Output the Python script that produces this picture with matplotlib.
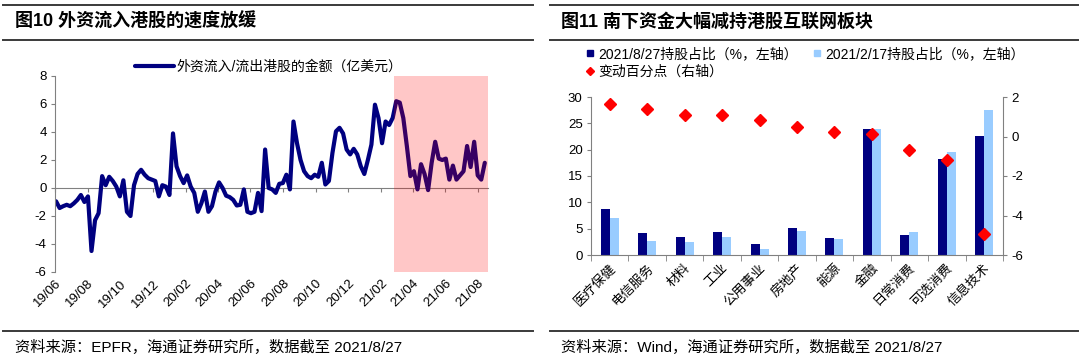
import numpy as np
import pandas as pd
import matplotlib
matplotlib.use("Agg")
import matplotlib.pyplot as plt
import matplotlib.dates as mdates
from matplotlib.lines import Line2D

plt.rcParams['font.family'] = ['Liberation Sans', 'Noto Sans CJK SC']
plt.rcParams['axes.unicode_minus'] = False

# ---------------------------------
# Left chart: weekly foreign flow into HK stocks (亿美元)
# ---------------------------------
flow_start = "2019-06-03"
flow_end = "2021-08-14"
flow_values = [
    -0.95, -1.43, -1.3, -1.2, -1.3, -1.1, -0.85, -0.5, -1.0, -0.6,
    -4.5, -2.3, -1.8, 0.85, 0.2, 0.8, 0.5, 0.1, -0.6, 0.55,
    -1.7, -2.0, 0.2, 1.0, 1.3, 0.95, 0.7, 0.6, 0.5, -0.6,
    0.2, 0.1, -0.5, 3.9, 1.55, 0.85, 0.35, 0.9, 0.1, -0.35,
    -1.7, -1.1, -0.25, -1.7, -1.3, -0.25, 0.4, 0.0, -0.55, -0.65,
    -0.85, -1.25, -1.2, -0.1, -1.7, -1.8, -1.7, -0.35, -1.65,
    2.75, 0.0, -0.1, -0.35, 0.3, 0.35, 0.95, -0.1, 4.75, 3.2,
    2.0, 1.2, 0.85, 0.7, 0.95, 0.8, 1.8, 0.25, 0.5, 2.5,
    4.05, 4.3, 3.9, 2.75, 2.4, 2.8, 2.4, 1.55, 1.0, 2.0,
    3.1, 5.95, 5.0, 3.2, 4.75, 4.5, 5.0, 6.2, 6.1, 5.0,
    3.0, 0.85, 1.2, -0.1, 1.7, 1.0, -0.15, 1.8, 3.3, 2.1,
    2.0, 2.1, 0.6, 1.6, 0.6, 0.9, 1.2, 3.0, 1.5, 3.3,
    0.9, 0.6, 1.8,
]
flow_label = "外资流入/流出港股的金额（亿美元）"
shade_start = "2021-02-25"
x_left, x_right = "2019-06-01", "2021-08-20"

# ---------------------------------
# Right chart: southbound holdings by sector
# ---------------------------------
sectors = ["医疗保健", "电信服务", "材料", "工业", "公用事业", "房地产",
           "能源", "金融", "日常消费", "可选消费", "信息技术"]
share_0827 = [8.7, 4.1, 3.5, 4.4, 2.0, 5.05, 3.2, 24.0, 3.8, 18.3, 22.55]
share_0217 = [7.1, 2.7, 2.4, 3.4, 1.1, 4.6, 3.0, 23.9, 4.4, 19.6, 27.6]
change_pp = [1.63, 1.38, 1.09, 1.09, 0.84, 0.49, 0.24, 0.15, -0.66, -1.2, -4.93]

navy = "#000080"
light = "#99ccff"
gray = "#808080"
W, H = 1080, 362

fig = plt.figure(figsize=(W / 100, H / 100), dpi=100)


def fx(px):
    return px / W


def fy(py):
    return 1 - py / H


# header / footer rules and texts
for x0, x1 in [(3, 533), (550, 1078)]:
    for py in (5, 40, 331):
        fig.add_artist(Line2D([fx(x0), fx(x1)], [fy(py), fy(py)],
                              transform=fig.transFigure, color="#3a3a3a", lw=1.4))
fig.text(fx(15), fy(22), "图10 外资流入港股的速度放缓", fontsize=13,
         fontweight="bold", va="center")
fig.text(fx(561), fy(22), "图11 南下资金大幅减持港股互联网板块", fontsize=13,
         fontweight="bold", va="center")
fig.text(fx(15), fy(347), "资料来源：EPFR，海通证券研究所，数据截至 2021/8/27",
         fontsize=11, va="center")
fig.text(fx(561), fy(347), "资料来源：Wind，海通证券研究所，数据截至 2021/8/27",
         fontsize=11, va="center")

# ---------------------------------
# Left chart
# ---------------------------------
ax = fig.add_axes([fx(55), fy(272), fx(488 - 55), (272 - 76) / H])
dates = pd.date_range(flow_start, flow_end, periods=len(flow_values))
ax.plot(dates, flow_values, color=navy, lw=3.0, solid_joinstyle="round",
        solid_capstyle="round", zorder=2, label=flow_label)
ax.axvspan(pd.Timestamp(shade_start), pd.Timestamp(x_right), color="#ff0000",
           alpha=0.22, lw=0, zorder=3)
ax.set_xlim(pd.Timestamp(x_left), pd.Timestamp(x_right))
ax.set_ylim(-6, 8)
ax.set_yticks(range(-6, 9, 2))
for s in ("top", "right", "bottom"):
    ax.spines[s].set_visible(False)
ax.spines["left"].set_color(gray)
ax.tick_params(axis="y", length=3, color=gray, labelsize=9.5, pad=3)
ax.xaxis.set_major_locator(mdates.MonthLocator(bymonth=[2, 4, 6, 8, 10, 12]))
ax.xaxis.set_major_formatter(mdates.DateFormatter("%y/%m"))
ax.tick_params(axis="x", length=0, labelsize=9.5, pad=4)
for lab in ax.get_xticklabels():
    lab.set_rotation(45)
    lab.set_ha("right")
    lab.set_rotation_mode("anchor")

# zero line with tick marks (labels stay at the bottom)
sec = ax.secondary_xaxis(6 / 14)
sec.xaxis.set_major_locator(mdates.MonthLocator(bymonth=[2, 4, 6, 8, 10, 12]))
sec.tick_params(length=3, color=gray, labelbottom=False, labeltop=False)
for s in sec.spines.values():
    s.set_color(gray)
    s.set_linewidth(0.8)

ax.legend(loc="upper left", bbox_to_anchor=(fx(135), fy(60)),
          bbox_transform=fig.transFigure, frameon=False, fontsize=10,
          handlelength=2.8, handletextpad=0.2, borderpad=0, borderaxespad=0)

# ---------------------------------
# Right chart
# ---------------------------------
axr = fig.add_axes([fx(591), fy(255), fx(1003 - 591), (255 - 97) / H])
x = np.arange(len(sectors))
w = 0.24
axr.bar(x - w / 2, share_0827, w, color=navy, zorder=2)
axr.bar(x + w / 2, share_0217, w, color=light, zorder=2)
axr.set_xlim(-0.5, len(sectors) - 0.5)
axr.set_ylim(0, 30)
axr.set_yticks(range(0, 31, 5))
axr.set_xticks(x)
axr.set_xticklabels(sectors, rotation=45, ha="right", rotation_mode="anchor",
                    fontsize=9.5)
axr.set_xticks(np.arange(-0.5, len(sectors), 1), minor=True)
axr.tick_params(axis="x", which="major", length=0, pad=5)
axr.tick_params(axis="x", which="minor", length=4, color=gray)
axr.tick_params(axis="y", length=3, color=gray, labelsize=9.5, pad=3)
for s in ("top", "right"):
    axr.spines[s].set_visible(False)
for s in ("left", "bottom"):
    axr.spines[s].set_color(gray)

ax2 = axr.twinx()
ax2.plot(x, change_pp, ls="none", marker="D", ms=6.5, color="#ff0000",
         mec="#ff0000", zorder=3)
ax2.set_ylim(-6, 2)
ax2.set_yticks(range(-6, 3, 2))
ax2.tick_params(axis="y", length=3, color=gray, labelsize=9.5, pad=3)
for s in ("top", "left", "bottom"):
    ax2.spines[s].set_visible(False)
ax2.spines["right"].set_color(gray)

handles = [
    Line2D([], [], ls="none", marker="s", ms=5, color=navy),
    Line2D([], [], ls="none", marker="D", ms=4, color="#ff0000"),
    Line2D([], [], ls="none", marker="s", ms=5, color=light),
]
labels = ["2021/8/27持股占比（%，左轴）", "变动百分点（右轴）",
          "2021/2/17持股占比（%，左轴）"]
axr.legend(handles, labels, ncol=2, loc="upper left",
           bbox_to_anchor=(fx(584), fy(47)), bbox_transform=fig.transFigure,
           frameon=False, fontsize=10, handlelength=0.8, handletextpad=0.2,
           columnspacing=1.0, labelspacing=0.3, borderpad=0, borderaxespad=0)

fig.savefig("out.png", dpi=100)
